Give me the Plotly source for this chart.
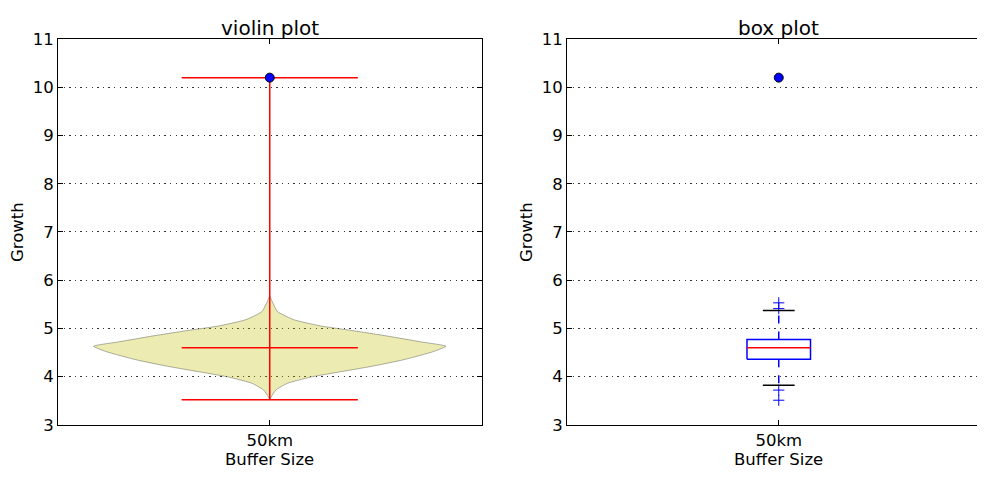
import plotly.graph_objects as go

# ---------------- data ----------------
categories = ["50km"]
positions = [1]

# violin outline: y values and relative density (0..1) of the KDE shape
violin_y = [5.68, 5.55, 5.35, 5.18, 5.05, 4.95, 4.84, 4.72, 4.63, 4.52,
            4.35, 4.21, 4.09, 3.99, 3.86, 3.72, 3.59, 3.52]
violin_density = [0.0, 0.015, 0.044, 0.136, 0.29, 0.477, 0.669, 0.858, 1.0, 0.93,
                  0.76, 0.574, 0.385, 0.233, 0.10, 0.034, 0.01, 0.0]
violin_min = [3.52]
violin_median = [4.60]
violin_max = [10.2]

# box plot statistics
box_q1 = [4.36]
box_median = [4.60]
box_q3 = [4.77]
box_whisker_low = [3.82]
box_whisker_high = [5.37]
box_fliers = [[5.53, 5.41, 3.72, 3.51]]

# highlighted point
highlight_y = [10.2]

y_ticks = [3, 4, 5, 6, 7, 8, 9, 10, 11]

# ---------------- style / geometry ----------------
OFF = 8                      # default page body margin of the html
W, H = 985 - 2 * OFF, 486 - 2 * OFF   # figure fits the window exactly (no scrollbars)
FONT = "DejaVu Sans"
VIOLIN_HW = 0.416      # half width of violin at max density (x units)
STAT_HW = 0.208        # half width of min/median/max lines
BOX_HW = 0.075
CAP_HW = 0.0375
RED = "#FF0000"
BLUE = "#0000FF"
PX_PER_UNIT = 423.5


def px_x(p):
    return (p - OFF) / W


def px_y(p):
    return 1 - (p - OFF) / H


fig = go.Figure()

# ---------------- violin (left) ----------------
for pos in positions:
    xs_right = [pos + d * VIOLIN_HW for d in violin_density]
    xs_left = [pos - d * VIOLIN_HW for d in reversed(violin_density)]
    ys = list(violin_y) + list(reversed(violin_y))
    fig.add_trace(go.Scatter(
        x=xs_right + xs_left + [xs_right[0]], y=ys + [ys[0]],
        mode="lines", fill="toself",
        fillcolor="rgba(191,191,0,0.3)",
        line=dict(color="rgba(0,0,0,0.3)", width=1, shape="spline", smoothing=0.5),
        hoverinfo="skip", showlegend=False, xaxis="x", yaxis="y"))

for i, pos in enumerate(positions):
    fig.add_trace(go.Scatter(x=[pos, pos], y=[violin_min[i], violin_max[i]],
                             mode="lines", line=dict(color=RED, width=1.5),
                             showlegend=False, xaxis="x", yaxis="y"))
    for val in (violin_min[i], violin_median[i], violin_max[i]):
        fig.add_trace(go.Scatter(x=[pos - STAT_HW, pos + STAT_HW], y=[val, val],
                                 mode="lines", line=dict(color=RED, width=1.5),
                                 showlegend=False, xaxis="x", yaxis="y"))
    fig.add_trace(go.Scatter(x=[pos], y=[highlight_y[i]], mode="markers",
                             marker=dict(color=BLUE, size=9, line=dict(color="black", width=1)),
                             showlegend=False, xaxis="x", yaxis="y"))

# ---------------- box plot (right) ----------------
for i, pos in enumerate(positions):
    fig.add_trace(go.Scatter(
        x=[pos - BOX_HW, pos + BOX_HW, pos + BOX_HW, pos - BOX_HW, pos - BOX_HW],
        y=[box_q1[i], box_q1[i], box_q3[i], box_q3[i], box_q1[i]],
        mode="lines", line=dict(color=BLUE, width=1.5),
        showlegend=False, xaxis="x2", yaxis="y2"))
    fig.add_trace(go.Scatter(x=[pos, pos], y=[box_q3[i], box_whisker_high[i]],
                             mode="lines", line=dict(color=BLUE, width=1.5, dash="8px,8px"),
                             showlegend=False, xaxis="x2", yaxis="y2"))
    fig.add_trace(go.Scatter(x=[pos, pos], y=[box_q1[i], box_whisker_low[i]],
                             mode="lines", line=dict(color=BLUE, width=1.5, dash="8px,8px"),
                             showlegend=False, xaxis="x2", yaxis="y2"))
    fig.add_trace(go.Scatter(x=[pos] * len(box_fliers[i]), y=box_fliers[i],
                             mode="markers",
                             marker=dict(symbol="cross-thin", size=8,
                                         line=dict(color=BLUE, width=1)),
                             showlegend=False, xaxis="x2", yaxis="y2"))
    for val in (box_whisker_high[i], box_whisker_low[i]):
        fig.add_trace(go.Scatter(x=[pos - CAP_HW, pos + CAP_HW], y=[val, val],
                                 mode="lines", line=dict(color="black", width=1.5),
                                 showlegend=False, xaxis="x2", yaxis="y2"))
    fig.add_trace(go.Scatter(x=[pos - BOX_HW, pos + BOX_HW], y=[box_median[i], box_median[i]],
                             mode="lines", line=dict(color=RED, width=1.5),
                             showlegend=False, xaxis="x2", yaxis="y2"))
    fig.add_trace(go.Scatter(x=[pos], y=[highlight_y[i]], mode="markers",
                             marker=dict(color=BLUE, size=9, line=dict(color="black", width=1)),
                             showlegend=False, xaxis="x2", yaxis="y2"))

# ---------------- axes ----------------
tickfont = dict(family=FONT, size=16.5, color="black")
y_dom = [px_y(433), px_y(31)]
common_x = dict(tickmode="array", tickvals=positions, ticktext=categories,
                ticks="inside", ticklen=5, tickcolor="black",
                showgrid=False, zeroline=False, showline=True, linecolor="black",
                linewidth=1, tickfont=tickfont, fixedrange=True, mirror="ticks")
common_y = dict(range=[3, 11], tickmode="array", tickvals=y_ticks,
                ticks="inside", ticklen=5, tickcolor="black",
                showgrid=True, gridcolor="#333333", griddash="1.4px,4.2px", gridwidth=1,
                zeroline=False, showline=True, linecolor="black", linewidth=1,
                tickfont=tickfont, fixedrange=True)

# right panel runs past the right edge of the picture (no right frame visible)
right_end_px = OFF + W
x2_range = [0.5, 0.5 + (right_end_px - 567) / PX_PER_UNIT]

fig.update_layout(
    width=W, height=H,
    margin=dict(l=0, r=0, t=0, b=0),
    paper_bgcolor="white", plot_bgcolor="white",
    showlegend=False,
    font=dict(family=FONT, color="black"),
    xaxis=dict(domain=[px_x(58), px_x(481.5)], range=[0.5, 1.5], anchor="y", **common_x),
    yaxis=dict(domain=y_dom, anchor="x", mirror="ticks", **common_y),
    xaxis2=dict(domain=[px_x(567), 1.0], range=x2_range, anchor="y2", **common_x),
    yaxis2=dict(domain=y_dom, anchor="x2", mirror=False, **common_y),
)

# titles and axis labels
ann = []
for title, cx in (("violin plot", 269.75), ("box plot", 778.75)):
    ann.append(dict(text=title, x=px_x(cx), y=px_y(19), xref="paper", yref="paper",
                    xanchor="center", yanchor="middle", showarrow=False,
                    font=dict(family=FONT, size=20, color="black")))
    ann.append(dict(text="Buffer Size", x=px_x(cx), y=px_y(469), xref="paper", yref="paper",
                    xanchor="center", yanchor="middle", showarrow=False,
                    font=dict(family=FONT, size=16.5, color="black")))
for gx in (18, 527):
    ann.append(dict(text="Growth", x=px_x(gx), y=px_y(232), xref="paper", yref="paper",
                    xanchor="center", yanchor="middle", showarrow=False, textangle=-90,
                    font=dict(family=FONT, size=16.5, color="black")))
fig.update_layout(annotations=ann)

fig.write_html("out.html")
